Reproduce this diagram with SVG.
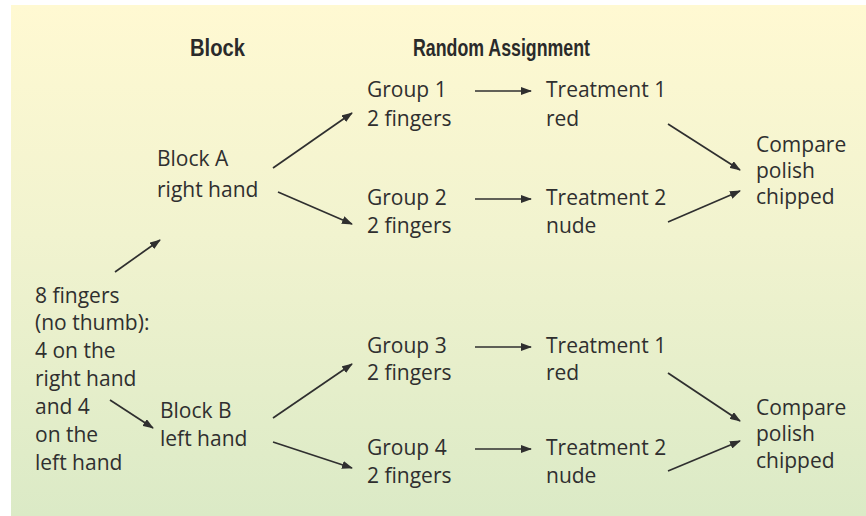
<svg xmlns="http://www.w3.org/2000/svg" width="866" height="516" viewBox="0 0 866 516">
  <defs>
    <linearGradient id="bg" x1="0" y1="0" x2="0" y2="1">
      <stop offset="0" stop-color="#fff9d2"/>
      <stop offset="0.45" stop-color="#f1f3cf"/>
      <stop offset="1" stop-color="#dbeac6"/>
    </linearGradient>
    <marker id="ah" viewBox="0 0 11 8" refX="10" refY="4" markerWidth="11" markerHeight="8" markerUnits="userSpaceOnUse" orient="auto">
      <path d="M0,0 L11,4 L0,8 Z" fill="#2f2f2f"/>
    </marker>
    <style>
      .hw { font-family: "Open Sans", "Noto Sans", sans-serif; font-size: 21px; fill: #2f2f2f; }
      .hd { font-family: "Liberation Sans Narrow", "Liberation Sans", sans-serif; font-weight: bold; font-size: 23px; fill: #2a2a2a; }
      .cn line { stroke: #2f2f2f; stroke-width: 1.7; marker-end: url(#ah); }
    </style>
  </defs>
  <rect x="0" y="0" width="866" height="516" fill="#ffffff"/>
  <rect x="11" y="5" width="855" height="511" fill="url(#bg)"/>

  <g id="headers">
    <text class="hd" x="190" y="56" textLength="55" lengthAdjust="spacingAndGlyphs">Block</text>
    <text class="hd" x="413" y="56" textLength="177" lengthAdjust="spacingAndGlyphs">Random Assignment</text>
  </g>

  <g id="fingers">
    <text class="hw" x="35" y="303">8 fingers</text>
    <text class="hw" x="35" y="330">(no thumb):</text>
    <text class="hw" x="35" y="358">4 on the</text>
    <text class="hw" x="35" y="386">right hand</text>
    <text class="hw" x="35" y="414">and 4</text>
    <text class="hw" x="35" y="442">on the</text>
    <text class="hw" x="35" y="470">left hand</text>
  </g>

  <g id="blockA">
    <text class="hw" x="157" y="166">Block A</text>
    <text class="hw" x="157" y="197">right hand</text>
  </g>
  <g id="blockB">
    <text class="hw" x="160" y="418">Block B</text>
    <text class="hw" x="160" y="446">left hand</text>
  </g>

  <g id="group1">
    <text class="hw" x="367" y="97">Group 1</text>
    <text class="hw" x="367" y="126">2 fingers</text>
  </g>
  <g id="group2">
    <text class="hw" x="367" y="205">Group 2</text>
    <text class="hw" x="367" y="233">2 fingers</text>
  </g>
  <g id="group3">
    <text class="hw" x="367" y="353">Group 3</text>
    <text class="hw" x="367" y="380">2 fingers</text>
  </g>
  <g id="group4">
    <text class="hw" x="367" y="455">Group 4</text>
    <text class="hw" x="367" y="483">2 fingers</text>
  </g>

  <g id="treat1a">
    <text class="hw" x="546" y="97">Treatment 1</text>
    <text class="hw" x="546" y="126">red</text>
  </g>
  <g id="treat2a">
    <text class="hw" x="546" y="205">Treatment 2</text>
    <text class="hw" x="546" y="233">nude</text>
  </g>
  <g id="treat1b">
    <text class="hw" x="546" y="353">Treatment 1</text>
    <text class="hw" x="546" y="380">red</text>
  </g>
  <g id="treat2b">
    <text class="hw" x="546" y="455">Treatment 2</text>
    <text class="hw" x="546" y="483">nude</text>
  </g>

  <g id="compareA">
    <text class="hw" x="756" y="152">Compare</text>
    <text class="hw" x="756" y="178">polish</text>
    <text class="hw" x="756" y="204">chipped</text>
  </g>
  <g id="compareB">
    <text class="hw" x="756" y="415">Compare</text>
    <text class="hw" x="756" y="441">polish</text>
    <text class="hw" x="756" y="468">chipped</text>
  </g>

  <g id="connectors" class="cn">
    <line x1="115" y1="272" x2="160" y2="240"/>
    <line x1="110" y1="400" x2="153" y2="428"/>
    <line x1="273" y1="168" x2="352" y2="113"/>
    <line x1="278" y1="192" x2="352" y2="224"/>
    <line x1="273" y1="418" x2="352" y2="364"/>
    <line x1="273" y1="442" x2="352" y2="468"/>
    <line x1="475" y1="91" x2="531" y2="91"/>
    <line x1="475" y1="199" x2="531" y2="199"/>
    <line x1="475" y1="347" x2="531" y2="347"/>
    <line x1="475" y1="449" x2="531" y2="449"/>
    <line x1="668" y1="124" x2="740" y2="170"/>
    <line x1="668" y1="222" x2="740" y2="191"/>
    <line x1="668" y1="373" x2="740" y2="421"/>
    <line x1="668" y1="471" x2="740" y2="441"/>
  </g>
</svg>
